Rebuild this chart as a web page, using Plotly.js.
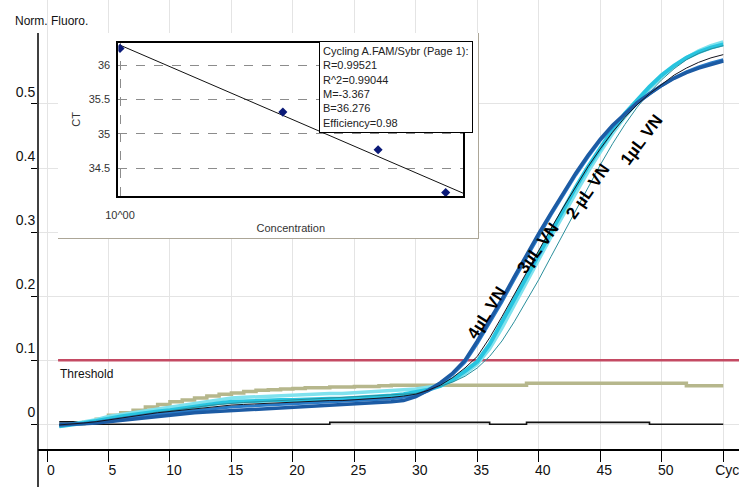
<!DOCTYPE html>
<html><head><meta charset="utf-8">
<script src="https://cdn.plot.ly/plotly-3.0.1.min.js"></script>
<style>html,body{margin:0;padding:0;background:#fff}#chart{width:739px;height:487px}</style>
</head><body><div id="chart"></div>
<script>
// ---------- data ----------
const cycles = [1,2,3,4,5,6,7,8,9,10,11,12,13,14,15,16,17,18,19,20,21,22,23,24,25,26,27,28,29,30,31,32,33,34,35,36,37,38,39,40,41,42,43,44,45,46,47,48,49,50,51,52,53,54,55];

const vn4Dark = [0.000,0.000,0.001,0.002,0.004,0.006,0.009,0.011,0.013,0.0145,
  0.016,0.018,0.019,0.020,0.022,0.023,0.024,0.025,0.026,0.027,
  0.028,0.028,0.029,0.030,0.031,0.032,0.033,0.035,0.037,0.043,
  0.053,0.065,0.080,0.100,0.130,0.162,0.195,0.230,0.265,0.298,
  0.330,0.362,0.392,0.420,0.445,0.467,0.485,0.502,0.516,0.529,
  0.540,0.549,0.556,0.562,0.567];
const vn4Mid = [-0.002,-0.001,0.001,0.003,0.006,0.009,0.012,0.014,0.016,0.018,
  0.020,0.022,0.024,0.026,0.027,0.028,0.029,0.030,0.031,0.032,
  0.033,0.034,0.034,0.035,0.036,0.037,0.038,0.040,0.042,0.045,
  0.052,0.063,0.078,0.097,0.126,0.158,0.191,0.226,0.261,0.294,
  0.327,0.359,0.389,0.417,0.443,0.465,0.484,0.501,0.516,0.529,
  0.541,0.550,0.558,0.564,0.569];
const vn3Thin = [-0.001,0.000,0.002,0.004,0.007,0.010,0.013,0.016,0.018,0.020,
  0.022,0.024,0.027,0.029,0.030,0.031,0.032,0.033,0.034,0.035,
  0.035,0.036,0.037,0.037,0.038,0.039,0.040,0.042,0.044,0.047,
  0.053,0.061,0.073,0.088,0.106,0.135,0.168,0.203,0.238,0.272,
  0.306,0.339,0.371,0.402,0.430,0.456,0.479,0.499,0.516,0.531,
  0.545,0.556,0.565,0.572,0.577];
const vn2Cyan = [-0.003,-0.001,0.002,0.005,0.009,0.012,0.015,0.018,0.020,0.022,
  0.025,0.028,0.031,0.033,0.035,0.036,0.037,0.037,0.038,0.038,
  0.039,0.039,0.040,0.040,0.041,0.042,0.043,0.045,0.047,0.050,
  0.054,0.060,0.070,0.083,0.098,0.125,0.160,0.197,0.233,0.268,
  0.302,0.336,0.370,0.402,0.432,0.460,0.485,0.507,0.527,0.545,
  0.560,0.572,0.581,0.588,0.593];
const vn2Light = [-0.003,0.000,0.003,0.007,0.012,0.015,0.018,0.021,0.024,0.027,
  0.030,0.033,0.036,0.039,0.041,0.042,0.043,0.044,0.045,0.046,
  0.047,0.047,0.048,0.048,0.049,0.050,0.051,0.052,0.053,0.055,
  0.058,0.061,0.068,0.079,0.094,0.118,0.150,0.186,0.222,0.258,
  0.293,0.327,0.361,0.394,0.425,0.454,0.480,0.503,0.524,0.543,
  0.559,0.572,0.583,0.591,0.597];
const vn1Thin = [-0.004,-0.001,0.002,0.005,0.008,0.011,0.014,0.017,0.019,0.021,
  0.024,0.026,0.029,0.031,0.033,0.034,0.035,0.036,0.037,0.038,
  0.039,0.040,0.040,0.041,0.042,0.043,0.044,0.045,0.046,0.048,
  0.053,0.059,0.066,0.075,0.088,0.106,0.130,0.160,0.192,0.226,
  0.262,0.298,0.334,0.370,0.405,0.438,0.468,0.495,0.518,0.538,
  0.555,0.569,0.579,0.586,0.591];
const oliveCurve = [0.000,0.001,0.003,0.008,0.014,0.018,0.022,0.027,0.031,0.035,
  0.038,0.041,0.044,0.047,0.049,0.051,0.053,0.054,0.055,0.056,
  0.057,0.057,0.058,0.058,0.059,0.059,0.060,0.061,0.061,0.061,
  0.061,0.061,0.061,0.061,0.061,0.061,0.061,0.061,0.064,0.064,
  0.064,0.064,0.064,0.064,0.064,0.064,0.064,0.064,0.064,0.064,
  0.064,0.060,0.060,0.060,0.060];
const ntcCurve = [0.004,0.004,0.000,0.000,0.000,0.000,0.000,0.000,0.000,0.000,
  0.000,0.000,0.000,0.000,0.000,0.000,0.000,0.000,0.000,0.000,
  0.000,0.000,0.003,0.003,0.003,0.003,0.003,0.003,0.003,0.003,
  0.003,0.003,0.003,0.003,0.003,0.000,0.000,0.000,0.003,0.003,
  0.003,0.003,0.003,0.003,0.003,0.003,0.003,0.003,0.000,0.000,
  0.000,0.000,0.000,0.000,0.000];
const thresholdX = [0.9, 57];
const thresholdY = [0.1, 0.1];

const xTickVals = [0,5,10,15,20,25,30,35,40,45,50,55];
const xTickText = ['0','5','10','15','20','25','30','35','40','45','50','Cyc'];
const yTickVals = [0,0.1,0.2,0.3,0.4,0.5];
const yTickText = ['0','0.1','0.2','0.3','0.4','0.5'];

const stdConc = [1,2,3,4];
const stdCT = [36.242,35.316,34.768,34.146];
const fitConc = [1,4.31];
const fitCT = [36.29,34.137];
const insetYTickVals = [34.5,35,35.5,36];
const insetYTickText = ['34.5','35','35.5','36'];
const insetXTickVals = [1];
const insetXTickText = ['10^00'];
const statsLines = ['Cycling A.FAM/Sybr (Page 1):','R=0.99521','R^2=0.99044','M=-3.367','B=36.276','Efficiency=0.98'];

const curveLabels = ['4µL VN','3µL VN','2 µL VN','1µL VN'];
const curveLabelX = [35.8,39.9,44.0,48.4];
const curveLabelY = [0.174,0.275,0.363,0.444];
const curveLabelAngle = [-58,-54,-55,-53];

// ---------- drawing ----------
const NARROW = "'Liberation Sans Narrow','Arial Narrow','Liberation Sans',Arial,sans-serif";
const ARIAL = "'Liberation Sans',Arial,sans-serif";

function line(y, color, width, shape){
  return {x: cycles, y: y, type:'scatter', mode:'lines', xaxis:'x', yaxis:'y',
    line:{color:color, width:width, shape: shape || 'linear'}, hoverinfo:'skip'};
}

const traces = [
  {x:[], y:[], type:'scatter', mode:'lines', xaxis:'x2', yaxis:'y2', hoverinfo:'skip'},
  line(oliveCurve,'#b6b78c',3.5,'hv'),
  line(ntcCurve,'#111111',1.6,'hv'),
  {x: thresholdX, y: thresholdY, type:'scatter', mode:'lines', xaxis:'x', yaxis:'y',
    line:{color:'#c44a63', width:2.5}, hoverinfo:'skip'},
  line(vn2Light,'#7fe2ee',3.5),
  line(vn2Cyan,'#27c4df',4),
  line(vn1Thin,'#2a8f9c',1),
  line(vn4Mid,'#2a7cc8',3),
  line(vn4Dark,'#1c5ba4',3.5),
  line(vn3Thin,'#15151f',1),
  {x: fitConc, y: fitCT, type:'scatter', mode:'lines', xaxis:'x3', yaxis:'y3',
    line:{color:'#111', width:1}, hoverinfo:'skip'},
  {x: stdConc, y: stdCT, type:'scatter', mode:'markers', xaxis:'x3', yaxis:'y3',
    marker:{symbol:'diamond', size:7, color:'#0b1a78'}, hoverinfo:'skip'}
];

const annotations = [
  {text:'Norm. Fluoro.', xref:'paper', yref:'paper', x:-0.0361, y:0.953, xanchor:'left', yanchor:'middle',
    showarrow:false, font:{family:NARROW, size:12, color:'#111'}},
  {text:'Threshold', xref:'paper', yref:'paper', x:0.0285, y:0.167, xanchor:'left', yanchor:'middle',
    showarrow:false, font:{family:NARROW, size:12, color:'#111'}},
  {text: statsLines.join('<br>'), xref:'paper', yref:'paper', x:0.4013, y:0.9094, xanchor:'left', yanchor:'top',
    align:'left', showarrow:false, bgcolor:'#ffffff', bordercolor:'#000', borderwidth:1, borderpad:3,
    font:{family:ARIAL, size:11, color:'#222'}}
];
for (let i = 0; i < curveLabels.length; i++) {
  annotations.push({text:'<b>'+curveLabels[i]+'</b>', xref:'x', yref:'y', x:curveLabelX[i], y:curveLabelY[i],
    xanchor:'center', yanchor:'middle', textangle:curveLabelAngle[i], showarrow:false,
    font:{family:ARIAL, size:17, color:'#000'}});
}

const layout = {
  width:739, height:487, margin:{l:38, r:0, t:0, b:38, pad:0},
  paper_bgcolor:'#fff', plot_bgcolor:'#fff', showlegend:false,
  xaxis:{domain:[0,1], range:[-0.732,56.28], tickmode:'array', tickvals:xTickVals, ticktext:xTickText,
    ticks:'outside', ticklen:11, tickwidth:1, tickcolor:'#000', showline:true, linecolor:'#000', linewidth:1.5,
    showgrid:true, gridcolor:'#e4e4e4', gridwidth:1, zeroline:false, anchor:'y',
    tickfont:{family:NARROW, size:14, color:'#111'}, ticklabelshift:4, ticklabelstandoff:-3,
    ticklabeloverflow:'allow'},
  yaxis:{domain:[0,1], range:[-0.0386,0.6623], tickmode:'array', tickvals:yTickVals, ticktext:yTickText,
    ticks:'outside', ticklen:6, tickwidth:1, tickcolor:'#000', showline:false,
    showgrid:true, gridcolor:'#e4e4e4', gridwidth:1, zeroline:false, anchor:'x',
    tickfont:{family:NARROW, size:14, color:'#111'}, ticklabelshift:-12, ticklabelstandoff:-7,
    ticklabeloverflow:'allow'},
  xaxis2:{domain:[0.0285,0.6277], range:[0,1], anchor:'y2', showgrid:false, zeroline:false,
    showticklabels:false, ticks:'', showline:true, linecolor:'#aca697', linewidth:1, side:'bottom'},
  yaxis2:{domain:[0.4699,0.9265], range:[0,1], anchor:'x2', showgrid:false, zeroline:false,
    showticklabels:false, ticks:'', showline:true, linecolor:'#aca697', linewidth:1, side:'right'},
  xaxis3:{domain:[0.1146,0.6067], type:'log', range:[-0.0031,0.6346], anchor:'y3',
    tickmode:'array', tickvals:insetXTickVals, ticktext:insetXTickText,
    showgrid:true, gridcolor:'#8c8c8c', griddash:'dash', gridwidth:1, zeroline:false,
    showline:true, mirror:true, linecolor:'#000', linewidth:2, ticks:'',
    tickfont:{family:ARIAL, size:11, color:'#333'}, ticklabelstandoff:8,
    title:{text:'Concentration', font:{family:ARIAL, size:11, color:'#333'}, standoff:4}},
  yaxis3:{domain:[0.5635,0.9049], range:[34.097,36.325], anchor:'x3',
    tickmode:'array', tickvals:insetYTickVals, ticktext:insetYTickText,
    showgrid:true, gridcolor:'#8c8c8c', griddash:'dash', gridwidth:1, zeroline:false,
    showline:true, mirror:true, linecolor:'#000', linewidth:2, ticks:'',
    tickfont:{family:ARIAL, size:11, color:'#333'}, ticklabelstandoff:4,
    title:{text:'CT', font:{family:ARIAL, size:11, color:'#333'}, standoff:6}},
  shapes:[
    {type:'line', xref:'paper', yref:'paper', x0:0, x1:0, y0:-0.0846, y1:0.9265,
      line:{color:'#000', width:1.5}, layer:'above'}
  ],
  annotations: annotations
};

Plotly.newPlot('chart', traces, layout, {staticPlot:true, displayModeBar:false});
</script>
</body></html>
